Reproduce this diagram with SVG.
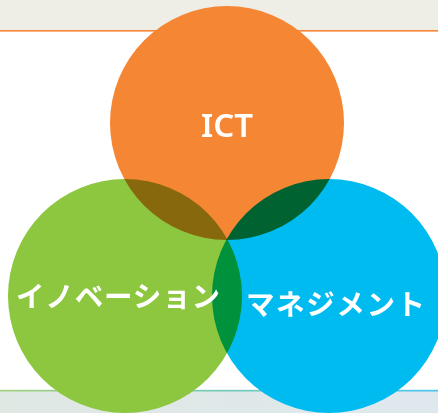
<svg xmlns="http://www.w3.org/2000/svg" width="438" height="413" viewBox="0 0 438 413">
  <defs>
    <linearGradient id="bl" x1="0" y1="0" x2="1" y2="0">
      <stop offset="0" stop-color="#a3d07f"/>
      <stop offset="1" stop-color="#4fc4ee"/>
    </linearGradient>
    <linearGradient id="bb" x1="0" y1="0" x2="1" y2="0">
      <stop offset="0" stop-color="#e0e8e4"/>
      <stop offset="1" stop-color="#dfe8ed"/>
    </linearGradient>
  </defs>
  <style>
    .c { mix-blend-mode: multiply; }
    .lbl { fill: #ffffff; font-family: "Noto Sans CJK JP", "Noto Sans", sans-serif; font-weight: bold; }
  </style>
  <rect x="0" y="0" width="438" height="413" fill="#ffffff"/>
  <rect x="0" y="0" width="438" height="30" fill="#efeee6"/>
  <rect x="0" y="30" width="438" height="1.6" fill="#f58634"/>
  <rect x="0" y="391.5" width="438" height="21.5" fill="url(#bb)"/>
  <rect x="0" y="389.8" width="438" height="1.8" fill="url(#bl)"/>
  <g style="isolation:isolate">
    <g id="ict"><circle class="c" cx="227" cy="123" r="117" fill="#f58634"/></g>
    <g id="innovation"><circle class="c" cx="125" cy="296" r="117" fill="#8dc63f"/></g>
    <g id="management"><circle class="c" cx="329" cy="296" r="117" fill="#00bbf0"/></g>
  </g>
  <g id="labels">
    <text class="lbl" x="227" y="137" font-size="33" text-anchor="middle" style="font-family:'Noto Sans', sans-serif;font-weight:600">ICT</text>
    <text class="lbl" x="16" y="307" font-size="28.5" textLength="204" lengthAdjust="spacing">イノベーション</text>
    <text class="lbl" x="246" y="315" font-size="28.5" textLength="179" lengthAdjust="spacing">マネジメント</text>
  </g>
  <g id="connectors"/>
</svg>
